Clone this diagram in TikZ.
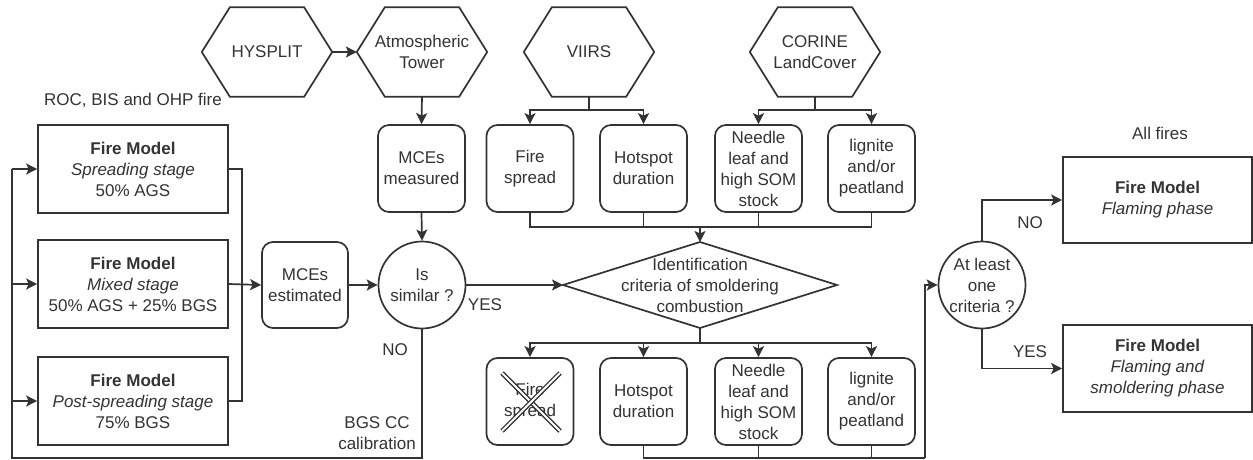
\documentclass[tikz,border=0pt]{standalone}
\usepackage{fontspec}
\setmainfont{Liberation Sans}
\usetikzlibrary{arrows.meta,calc}
\definecolor{ink}{HTML}{333333}
\tikzset{
  x=1pt,y=-1pt,
  every node/.style={font=\fontsize{17}{21}\selectfont,text=ink,align=center,inner sep=0pt},
  sq/.style={draw=ink,line width=1.7pt,rectangle,minimum width=190pt,minimum height=88pt},
  rbox/.style={draw=ink,line width=1.7pt,rectangle,rounded corners=11pt,minimum width=87pt,minimum height=87pt},
  circ/.style={draw=ink,line width=1.7pt,circle,minimum size=87pt},
  hexbox/.style={rectangle,minimum width=130pt,minimum height=89pt},
  link/.style={draw=ink,line width=1.7pt},
  arr/.style={link,-{Stealth[length=11pt,width=11pt,inset=2.5pt]}},
  lbl/.style={font=\fontsize{17}{21}\selectfont},
}
\newcommand{\hexdraw}[1]{\draw[link] (#1.west) -- ([xshift=28pt]#1.north west) -- ([xshift=-28pt]#1.north east) -- (#1.east) -- ([xshift=-28pt]#1.south east) -- ([xshift=28pt]#1.south west) -- cycle;}
\begin{document}
\begin{tikzpicture}
\useasboundingbox (0,0) rectangle (1253,460);
% hexagons
\node[hexbox] (hy) at (267,52) {HYSPLIT};
\node[hexbox] (at) at (422,52) {Atmospheric\\Tower};
\node[hexbox] (vi) at (589,52) {VIIRS};
\node[hexbox] (co) at (815,52) {CORINE\\LandCover};
\hexdraw{hy}\hexdraw{at}\hexdraw{vi}\hexdraw{co}
% left fire models
\node[lbl] (roc) at (133,100) {ROC, BIS and OHP fire};
\node[sq] (f1) at (133,169) {\textbf{Fire Model}\\\textit{Spreading stage}\\50\% AGS};
\node[sq] (f2) at (133,284) {\textbf{Fire Model}\\\textit{Mixed stage}\\50\% AGS + 25\% BGS};
\node[sq] (f3) at (133,401) {\textbf{Fire Model}\\\textit{Post-spreading stage}\\75\% BGS};
% MCEs
\node[rbox,minimum width=86pt,minimum height=86pt] (me) at (305,285) {MCEs\\estimated};
\node[rbox] (mm) at (421.5,168.5) {MCEs\\measured};
\node[circ] (is) at (422,285) {Is\\similar ?};
% top boxes
\node[rbox] (t1) at (530,168.5) {Fire\\spread};
\node[rbox] (t2) at (643.5,168.5) {Hotspot\\duration};
\node[rbox] (t3) at (758.5,168.5) {Needle\\leaf and\\high SOM\\stock};
\node[rbox] (t4) at (871.5,168.5) {lignite\\and/or\\peatland};
% diamond
\coordinate (dl) at (563,285);
\coordinate (dr) at (837,285);
\coordinate (dt) at (700,242);
\coordinate (db) at (700,328);
\draw[link] (dl) -- (dt) -- (dr) -- (db) -- cycle;
\node (dia) at (700,285) {Identification\\criteria of smoldering\\combustion};
% bottom boxes
\node[rbox] (b1) at (530,401.5) {Fire\\spread};
\node[rbox] (b2) at (643.5,401.5) {Hotspot\\duration};
\node[rbox] (b3) at (758.5,401.5) {Needle\\leaf and\\high SOM\\stock};
\node[rbox] (b4) at (871.5,401.5) {lignite\\and/or\\peatland};
% cross
\foreach \a/\b in {{(502,373)}/{(560,431)},{(560,373)}/{(502,431)}}{
  \draw[ink,line width=4.6pt] \a -- \b;
  \draw[white,line width=1.8pt] \a -- \b;
}
% right side
\node[circ] (al) at (982,285) {At least\\one\\criteria ?};
\node[lbl] (all) at (1160,133) {All fires};
\node[sq,minimum width=189pt,minimum height=86pt] (r1) at (1157.5,200) {\textbf{Fire Model}\\\textit{Flaming phase}};
\node[sq,minimum width=189pt,minimum height=87pt] (r2) at (1157.5,368.5) {\textbf{Fire Model}\\\textit{Flaming and}\\\textit{smoldering phase}};
% connectors
\draw[arr] (hy.east) -- (at.west);
\draw[arr] (at.south) -- (mm.north);
\draw[arr] (mm.south) -- (is.north);
\coordinate (vj) at (589,110);
\draw[link] (vi.south) -- (vj);
\draw[arr] (vj) -| (t1.north);
\draw[arr] (vj) -| (t2.north);
\coordinate (cj) at (815,110);
\draw[link] (co.south) -- (cj);
\draw[arr] (cj) -| (t3.north);
\draw[arr] (cj) -| (t4.north);
\coordinate (tj) at (700,227);
\draw[link] (t1.south) |- (tj);
\draw[link] (t2.south) |- (tj);
\draw[link] (t3.south) |- (tj);
\draw[link] (t4.south) |- (tj);
\draw[arr] (tj) -- (dt);
\coordinate (bj) at (700,343);
\draw[link] (db) -- (bj);
\draw[arr] (bj) -| (b1.north);
\draw[arr] (bj) -| (b2.north);
\draw[arr] (bj) -| (b3.north);
\draw[arr] (bj) -| (b4.north);
\coordinate (rj) at (925,458);
\draw[link] (b2.south) |- (rj);
\draw[link] (b3.south) |- (rj);
\draw[link] (b4.south) |- (rj);
\draw[arr] (rj) |- (al.west);
\draw[arr] (al.north) |- (r1.west);
\draw[arr] (al.south) |- (r2.west);
\node[lbl] (no2) at (1030,223) {NO};
\node[lbl] (yes2) at (1030,352) {YES};
% left loop
\coordinate (lj) at (242,285);
\draw[link] (f1.east) -| (lj);
\draw[link] (f3.east) -| (lj);
\draw[arr] (f2.east) -- (me.west);
\draw[arr] (me.east) -- (is.west);
\draw[arr] (is.east) -- (dl);
\node[lbl] (yes1) at (485,305) {YES};
\node[lbl] (no1) at (395,350) {NO};
\node[lbl] (bgs) at (377,433) {BGS CC\\calibration};
\coordinate (bl) at (12,458);
\coordinate (lt) at (12,169);
\draw[link] (is.south) |- (bl) -- (lt);
\draw[arr] (lt) -- (f1.west);
\draw[arr] (lt |- f2.west) -- (f2.west);
\draw[arr] (lt |- f3.west) -- (f3.west);
\end{tikzpicture}
\end{document}
